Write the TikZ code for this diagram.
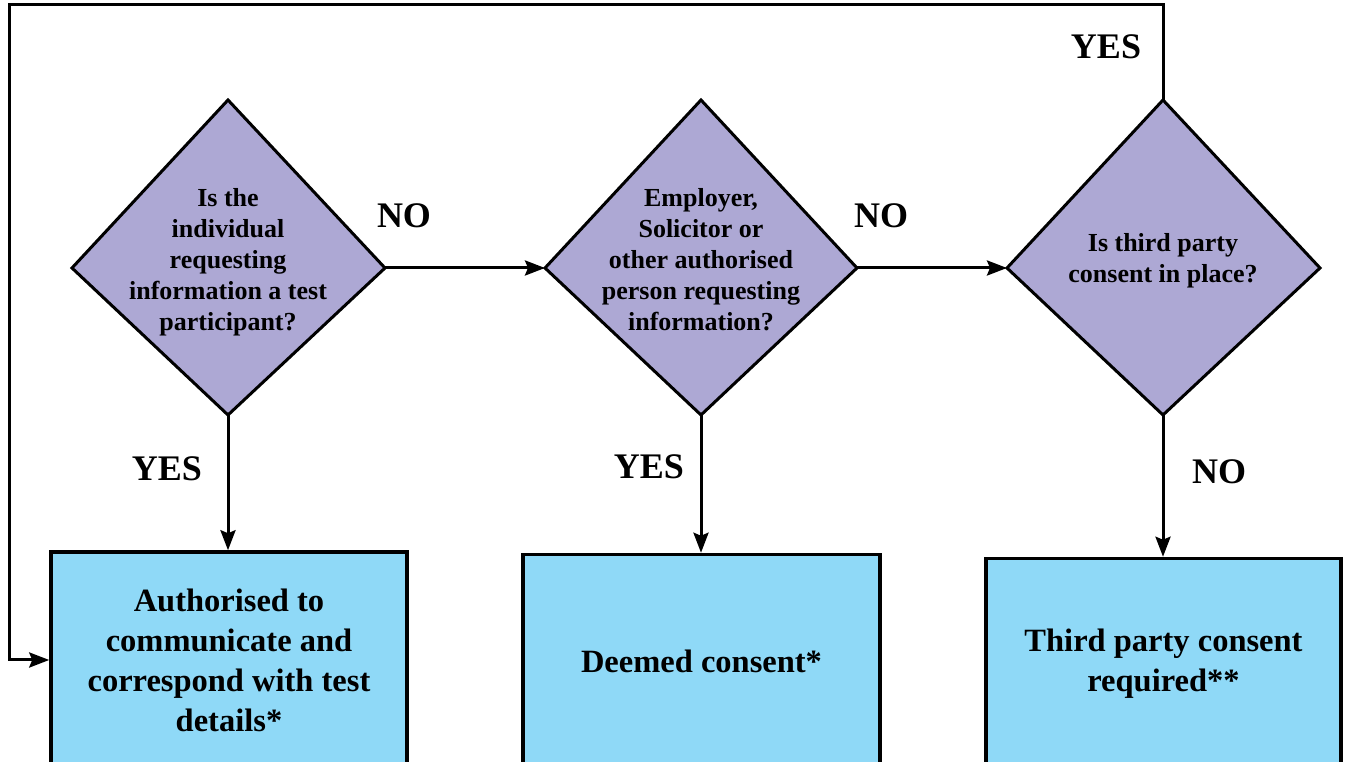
\documentclass[tikz,border=0pt]{standalone}
\usepackage{fontspec}
\setmainfont{Liberation Serif}
\usetikzlibrary{arrows.meta}
\definecolor{qfill}{HTML}{ADA8D4}
\definecolor{afill}{HTML}{8FD9F7}

\begin{document}
\begin{tikzpicture}[x=1pt,y=1pt,
    line width=3pt,
    question/.style={fill=qfill,draw,line width=3pt,line join=miter},
    qtext/.style={align=center,inner sep=0pt,font=\bfseries\fontsize{26}{31}\selectfont},
    answer/.style={rectangle,fill=afill,draw,line width=3.5pt,align=center,font=\bfseries\fontsize{32.5}{40}\selectfont},
    choice/.style={inner sep=0pt,font=\bfseries\fontsize{36}{40}\selectfont},
    flow/.style={-{Stealth[length=20pt,width=15pt,inset=3pt]}}
  ]
  \useasboundingbox (0,0) rectangle (1347,762);
  \clip (0,0) rectangle (1347,762);

  % corners of the questions
  \coordinate (q1t) at (228,662);
  \coordinate (q1r) at (385,494);
  \coordinate (q1b) at (228,347);
  \coordinate (q1l) at (72,494);
  \coordinate (q2t) at (701,662);
  \coordinate (q2r) at (857,494);
  \coordinate (q2b) at (701,347);
  \coordinate (q2l) at (545,494);
  \coordinate (q3t) at (1163,662);
  \coordinate (q3r) at (1320,494);
  \coordinate (q3b) at (1163,347);
  \coordinate (q3l) at (1007,494);
  \coordinate (loop) at (9,757);

  \filldraw[question] (q1t) -- (q1r) -- (q1b) -- (q1l) -- cycle;
  \filldraw[question] (q2t) -- (q2r) -- (q2b) -- (q2l) -- cycle;
  \filldraw[question] (q3t) -- (q3r) -- (q3b) -- (q3l) -- cycle;

  \node[qtext] (q1) at (228,500) {Is the\\individual\\requesting\\information a test\\participant?};
  \node[qtext] (q2) at (701,502) {Employer,\\Solicitor or\\other authorised\\person requesting\\information?};
  \node[qtext] (q3) at (1163,501) {Is third party\\consent in place?};

  \node[answer,minimum width=356pt,minimum height=216pt] (b1) at (229,102) {Authorised to\\communicate and\\correspond with test\\details*};
  \node[answer,minimum width=357pt,minimum height=214pt] (b2) at (701.5,100.5) {Deemed consent*};
  \node[answer,minimum width=355pt,minimum height=210pt] (b3) at (1163.5,98.5) {Third party consent\\required**};

  \node[choice] (no1) at (404,546) {NO};
  \node[choice] (no2) at (881,546) {NO};
  \node[choice] (no3) at (1219,290) {NO};
  \node[choice] (yes1) at (167,293) {YES};
  \node[choice] (yes2) at (649,295) {YES};
  \node[choice] (yes3) at (1106,715) {YES};

  \path[flow]
   (q1r) edge (q2l)
   (q2r) edge (q3l)
   (q1b) edge (q1b |- b1.north)
   (q2b) edge (q2b |- b2.north)
   (q3b) edge (q3b |- b3.north);
  \draw[flow] (q3t) |- (loop) |- (b1.west);
\end{tikzpicture}
\end{document}
